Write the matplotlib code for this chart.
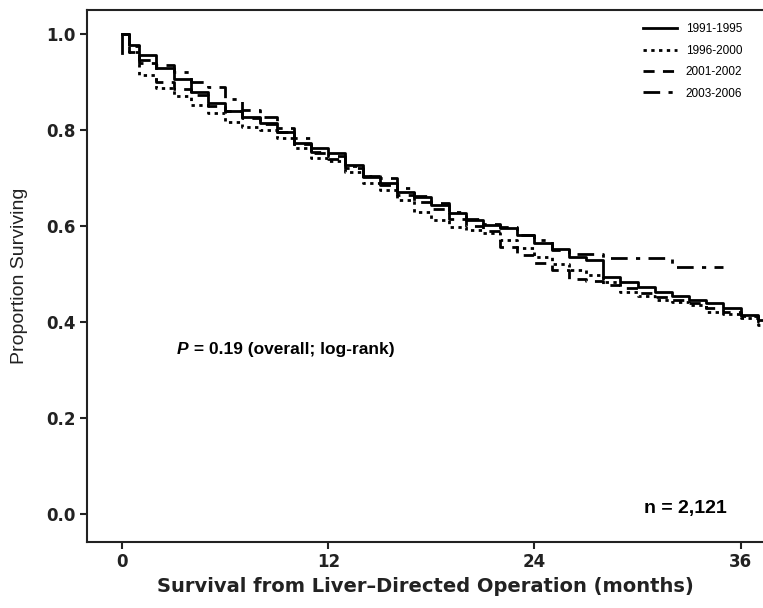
import numpy as np
import matplotlib
matplotlib.use('Agg')
import matplotlib.pyplot as plt

matplotlib.rcParams['font.family'] = 'DejaVu Sans'

# Kaplan-Meier curves, values (monthly steps)
labels = ['1991-1995', '1996-2000', '2001-2002', '2003-2006']

t_full = [0, 0.4] + list(range(1, 38))      # step start times, last step runs to axis end
t_short = [0, 0.4] + list(range(1, 35))     # 2003-2006 followed to 35 months

s_1991 = [1.0, 0.977, 0.956, 0.930, 0.906, 0.879, 0.856, 0.840, 0.828, 0.815,
          0.795, 0.773, 0.762, 0.752, 0.727, 0.702, 0.690, 0.671, 0.660, 0.644,
          0.627, 0.612, 0.602, 0.596, 0.581, 0.565, 0.553, 0.536, 0.529, 0.494,
          0.483, 0.473, 0.463, 0.454, 0.446, 0.440, 0.429, 0.415, 0.404]
s_1996 = [1.0, 0.963, 0.915, 0.887, 0.871, 0.852, 0.835, 0.817, 0.806, 0.800,
          0.783, 0.762, 0.742, 0.735, 0.712, 0.690, 0.675, 0.654, 0.630, 0.612,
          0.598, 0.592, 0.585, 0.571, 0.554, 0.535, 0.520, 0.508, 0.498, 0.483,
          0.463, 0.454, 0.446, 0.442, 0.435, 0.421, 0.417, 0.408, 0.394]
s_2001 = [1.0, 0.963, 0.940, 0.900, 0.885, 0.872, 0.850, 0.840, 0.825, 0.812,
          0.795, 0.770, 0.752, 0.740, 0.720, 0.704, 0.685, 0.665, 0.650, 0.635,
          0.615, 0.600, 0.590, 0.557, 0.540, 0.523, 0.508, 0.490, 0.485, 0.478,
          0.470, 0.460, 0.452, 0.446, 0.440, 0.430, 0.422, 0.412, 0.400]
s_2003 = [1.0, 0.975, 0.946, 0.935, 0.920, 0.900, 0.890, 0.864, 0.842, 0.827,
          0.804, 0.783, 0.755, 0.745, 0.725, 0.704, 0.700, 0.680, 0.662, 0.647,
          0.630, 0.615, 0.605, 0.598, 0.581, 0.571, 0.550, 0.542, 0.542, 0.533,
          0.533, 0.533, 0.533, 0.515, 0.515, 0.515]

x_end = 37.3
styles = ['-', (0, (1.2, 1.6)), (0, (4, 3)), (0, (6, 3, 1.5, 3))]

fig = plt.figure(figsize=(7.63, 6.08), dpi=100)
ax = fig.add_axes([87 / 763, 66 / 608, 676 / 763, 532 / 608])

series = [(t_full, s_1991), (t_full, s_1996), (t_full, s_2001), (t_short, s_2003)]
for (t, s), ls, lab in zip(series, styles, labels):
    end = x_end if t is t_full else 35
    xs = list(t) + [end]
    ys = list(s) + [s[-1]]
    ax.step(xs, ys, where='post', color='black', lw=2.0, linestyle=ls, label=lab)
# initial vertical drop from 1.0
ax.plot([0, 0], [1.0, 0.96], color='black', lw=2.0)

ax.set_xlim(-2.04, x_end)
ax.set_ylim(-0.058, 1.05)
ax.set_xticks([0, 12, 24, 36])
ax.set_yticks([0.0, 0.2, 0.4, 0.6, 0.8, 1.0])
ax.set_yticklabels(['0.0', '0.2', '0.4', '0.6', '0.8', '1.0'])

for sp in ['left', 'bottom', 'top']:
    ax.spines[sp].set_linewidth(1.5)
    ax.spines[sp].set_color('#222222')
ax.spines['right'].set_visible(False)
ax.tick_params(length=5, width=1.5, color='#222222', labelsize=12, pad=3)
for lbl in ax.get_xticklabels() + ax.get_yticklabels():
    lbl.set_fontweight('bold')
    lbl.set_color('#222222')

ax.set_xlabel('Survival from Liver\u2013Directed Operation (months)', fontsize=14,
              fontweight='bold', color='#222222', labelpad=4)
ax.set_ylabel('Proportion Surviving', fontsize=14, family='Liberation Sans',
              color='#222222', labelpad=13)

t1 = ax.text(3.2, 0.342, 'P', fontsize=12.5, fontweight='bold', style='italic',
             family='Liberation Sans', va='center', ha='left')
ax.annotate(' = 0.19 (overall; log-rank)', xy=(1, 0), xycoords=t1, va='bottom',
            ha='left', fontsize=12.5, fontweight='bold', family='Liberation Sans')
ax.text(35.2, 0.0125, 'n = 2,121', fontsize=14, fontweight='bold',
        family='Liberation Sans', ha='right', va='center')

leg = ax.legend(loc='upper right', bbox_to_anchor=(0.985, 0.995), frameon=False,
                handlelength=2.9, handletextpad=0.7, labelspacing=0.8,
                prop={'family': 'Liberation Sans', 'size': 8.5})

plt.savefig('out.png', dpi=100)
